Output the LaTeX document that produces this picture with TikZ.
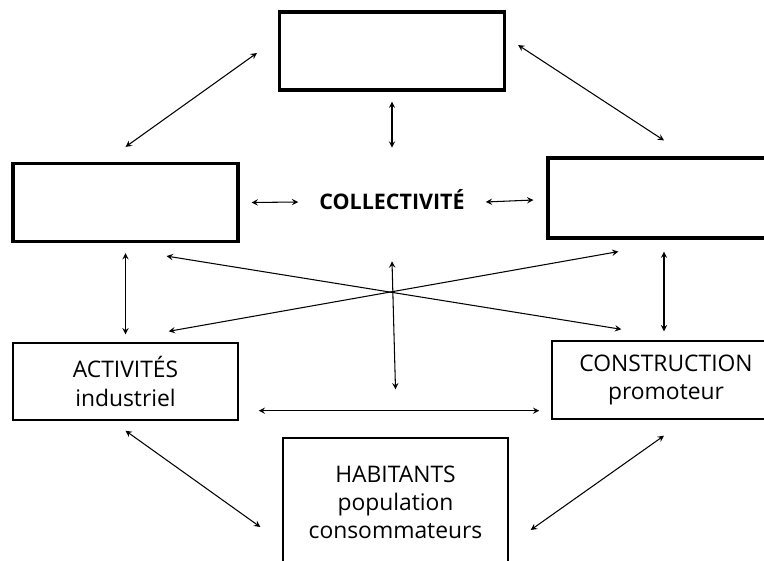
\documentclass[tikz,border=0pt]{standalone}
\usepackage{fontspec}
\setmainfont{Open Sans}
\usepackage{tikz}

\begin{document}
\begin{tikzpicture}[x=0.02cm, y=-0.02cm, >=stealth, font=\fontsize{13}{16}\selectfont,
  pole/.style={draw, line width=1.8pt, minimum width=4.5cm, minimum height=1.56cm, inner sep=0pt},
  acteur/.style={draw, line width=0.8pt, align=center, inner sep=0pt},
  fleche/.style={<->, line width=0.6pt}]
  \useasboundingbox (0,0) rectangle (764,561);
  \node[pole](haut) at (392,51){};
  \node[pole](gauche) at (125.5,202.5){};
  \node[pole, minimum width=4.64cm, minimum height=1.6cm](droite) at (664,198){};
  \node[font=\fontsize{12.2}{14}\selectfont\bfseries](coll) at (392,200){COLLECTIVITÉ};
  \node[acteur, minimum width=4.5cm, minimum height=1.54cm](activites) at (125.5,381.5){ACTIVITÉS\\industriel};
  \node[acteur, minimum width=4.56cm, minimum height=1.56cm](construction) at (666,380){CONSTRUCTION\\promoteur};
  \node[acteur, minimum width=4.5cm, minimum height=2.56cm](habitants) at (395.5,502){HABITANTS\\population\\consommateurs};
  \draw[fleche] ([shift={(-21,2)}]haut.west) -- ([shift={(0,-15)}]gauche.north);
  \draw[fleche] ([shift={(12,-6)}]haut.east) -- ([shift={(0,-16)}]droite.north);
  \draw[fleche] ([shift={(0,10)}]haut.south) -- ([shift={(0,-36)}]coll.north);
  \draw[fleche] ([shift={(12,0)}]gauche.east) -- ([shift={(-15,2)}]coll.west);
  \draw[fleche] ([shift={(15,2)}]coll.east) -- ([shift={(-13,2)}]droite.west);
  \draw[fleche] ([shift={(0,10)}]gauche.south) -- ([shift={(0,-8)}]activites.north);
  \draw[fleche] ([shift={(0,12)}]droite.south) -- ([shift={(0,-9)}]droite.south |- construction.north);
  \draw[fleche] ([shift={(-73,13)}]gauche.south east) -- ([shift={(70,-11)}]construction.north west);
  \draw[fleche] ([shift={(-70,-11)}]activites.north east) -- ([shift={(72,12)}]droite.south west);
  \draw[fleche] ([shift={(0,45)}]coll.south) -- ([shift={(0,-48)}]habitants.north);
  \draw[fleche] ([shift={(20,-10)}]activites.south east) -- ([shift={(-12,-9)}]construction.south west);
  \draw[fleche] ([shift={(0,10)}]activites.south) -- ([shift={(-22,25)}]habitants.west);
  \draw[fleche] ([shift={(22,28)}]habitants.east) -- ([shift={(-2,16)}]construction.south);
\end{tikzpicture}
\end{document}
